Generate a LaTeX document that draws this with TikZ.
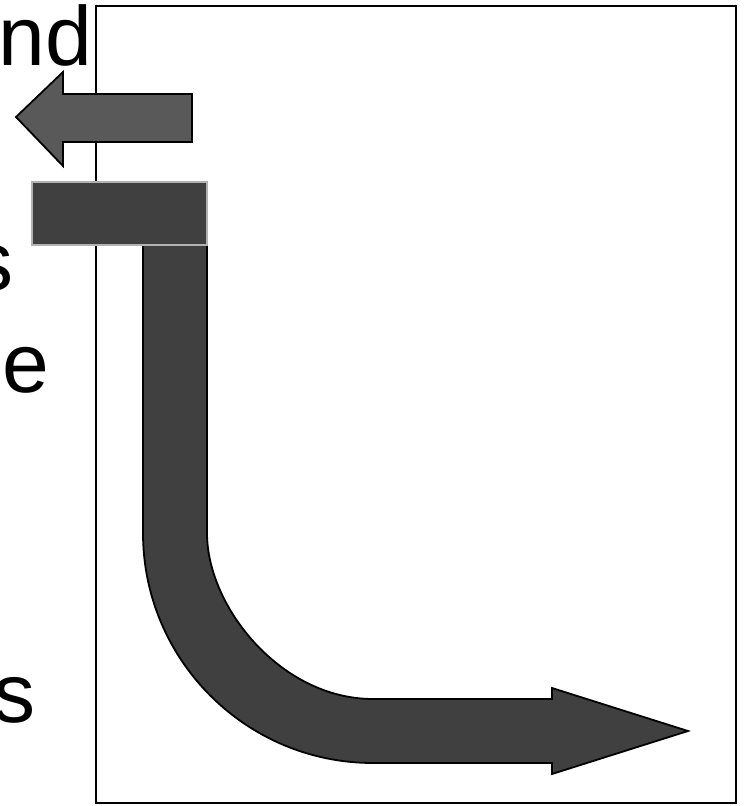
\documentclass[tikz,border=0pt]{standalone}
\usepackage{fontspec}
\setmainfont{Liberation Sans}
\begin{document}
\begin{tikzpicture}[x=1pt,y=-1pt,
  frame/.style={draw=black,line width=1.8pt},
  bigarrow/.style={fill=black!75,draw=black,line width=1.8pt,line join=miter},
  leftarrow/.style={fill=black!65,draw=black,line width=1.8pt,line join=miter},
  bar/.style={fill=black!75,draw=black!30,line width=2pt},
  frag/.style={inner sep=0pt,anchor=base east,font=\fontsize{84}{90}\selectfont}]
\useasboundingbox (0,0) rectangle (744,806);
\clip (0,0) rectangle (744,806);
\fill[white] (0,0) rectangle (744,806);
% frame
\draw[frame] (96,6) rectangle (736,803);
% text fragments (clipped words)
\node[frag] (t1) at (92,65) {nd};
\node[frag] (t2) at (14,290) {s};
\node[frag] (t3) at (49,392) {e};
\node[frag] (t4) at (36,722) {s};
% bent arrow
\draw[bigarrow] (143,245) -- (143,533)
  .. controls (143,660) and (246,763) .. (373,763)
  -- (552,763) -- (552,774) -- (688,731) -- (552,688) -- (552,699) -- (373,699)
  .. controls (281,699) and (207,607) .. (207,533)
  -- (207,245) -- cycle;
% bar
\draw[bar] (32,182) rectangle (207,245);
% left arrow
\draw[leftarrow] (192,94) -- (63,94) -- (63,72) -- (16,117) -- (63,166) -- (63,142) -- (192,142) -- cycle;
\end{tikzpicture}
\end{document}
